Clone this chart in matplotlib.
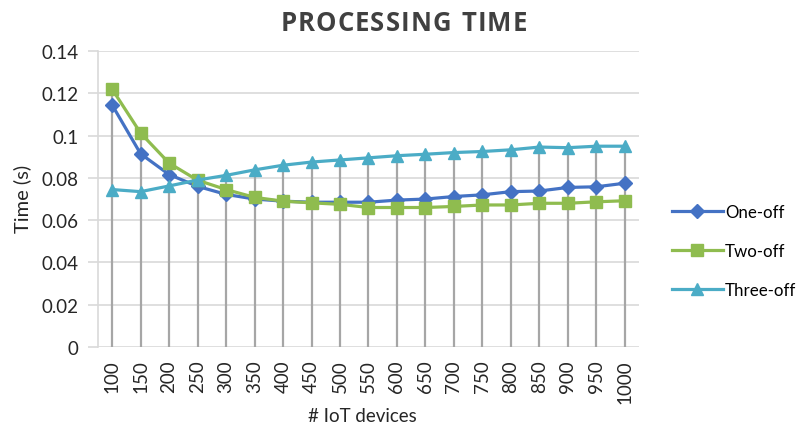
import matplotlib
matplotlib.use("Agg")
import matplotlib.pyplot as plt
import numpy as np

devices = [100, 150, 200, 250, 300, 350, 400, 450, 500, 550, 600, 650, 700, 750, 800, 850, 900, 950, 1000]
one_off = [0.1145, 0.0914, 0.0816, 0.0760, 0.0722, 0.0700, 0.0690, 0.0685, 0.0685, 0.0685,
           0.0695, 0.0700, 0.0712, 0.0720, 0.0735, 0.0738, 0.0755, 0.0758, 0.0775]
two_off = [0.1220, 0.1012, 0.0870, 0.0789, 0.0745, 0.0708, 0.0690, 0.0682, 0.0675, 0.0660,
           0.0660, 0.0660, 0.0665, 0.0672, 0.0672, 0.0680, 0.0680, 0.0687, 0.0692]
three_off = [0.0745, 0.0735, 0.0762, 0.0790, 0.0812, 0.0838, 0.0860, 0.0875, 0.0885, 0.0895,
             0.0905, 0.0912, 0.0920, 0.0925, 0.0933, 0.0946, 0.0943, 0.0950, 0.0950]
y_ticks = [0, 0.02, 0.04, 0.06, 0.08, 0.1, 0.12, 0.14]
y_tick_labels = ["0", "0.02", "0.04", "0.06", "0.08", "0.1", "0.12", "0.14"]
title = "PROCESSING TIME"

plt.rcParams['font.family'] = ['Lato', 'DejaVu Sans']

fig = plt.figure(figsize=(8.09, 4.27), dpi=100)
ax = fig.add_axes([0.121, 0.185, 0.669, 0.693])

x = np.arange(len(devices))
tops = np.maximum(np.maximum(one_off, two_off), three_off)
ax.vlines(x, 0, tops, color='#A6A6A6', lw=1.6, zorder=1)

ax.plot(x, one_off, color='#4472C4', lw=2.3, marker='D', ms=7, label='One-off', zorder=3)
ax.plot(x, two_off, color='#8FBC4F', lw=2.3, marker='s', ms=8.5, label='Two-off', zorder=4)
ax.plot(x, three_off, color='#4BACC6', lw=2.3, marker='^', ms=9, label='Three-off', zorder=5)

ax.set_xlim(-0.5, len(devices) - 0.5)
ax.set_ylim(0, 0.14)
ax.set_yticks(y_ticks)
ax.set_yticklabels(y_tick_labels)
ax.set_xticks(x)
ax.set_xticklabels([str(d) for d in devices], rotation=90)
ax.grid(axis='y', color='#D9D9D9', lw=1.2, zorder=0)
ax.set_axisbelow(True)
for s in ['top', 'right', 'bottom']:
    ax.spines[s].set_visible(False)
ax.spines['left'].set_color('#D9D9D9')
ax.spines['left'].set_linewidth(1.2)
ax.tick_params(axis='y', length=7, color='#D9D9D9', width=1.2, labelsize=13.5, labelcolor='#262626', pad=7)
ax.tick_params(axis='x', length=0, labelsize=13.5, labelcolor='#262626', pad=9)

fig.text(0.027, 0.535, 'Time (s)', ha='center', va='center', rotation=90, fontsize=14.5, color='#262626')
fig.text(0.448, 0.024, '# IoT devices', ha='center', va='center', fontsize=13.5, color='#262626')

# letter-spaced title
renderer = fig.canvas.get_renderer()
tprops = dict(fontsize=18.5, fontweight='bold', color='#404040', family=['Open Sans', 'DejaVu Sans'])
spacing = 1.0  # px between letters
widths = []
for ch in title:
    t = fig.text(0, 0, ch if ch != ' ' else 'I', **tprops)
    w = t.get_window_extent(renderer).width
    widths.append(w)
    t.remove()
total = sum(widths) + spacing * (len(title) - 1)
W = fig.get_figwidth() * fig.dpi
cx = 0.499 * W
xpos = cx - total / 2
for ch, w in zip(title, widths):
    if ch != ' ':
        fig.text(xpos / W, 0.945, ch, ha='left', va='center', **tprops)
    xpos += w + spacing

fig.legend(loc='center left', bbox_to_anchor=(0.822, 0.41), frameon=False, fontsize=12.2,
           handlelength=3.0, handletextpad=0.15, labelspacing=1.35, borderaxespad=0)

fig.savefig('out.png', dpi=100)
